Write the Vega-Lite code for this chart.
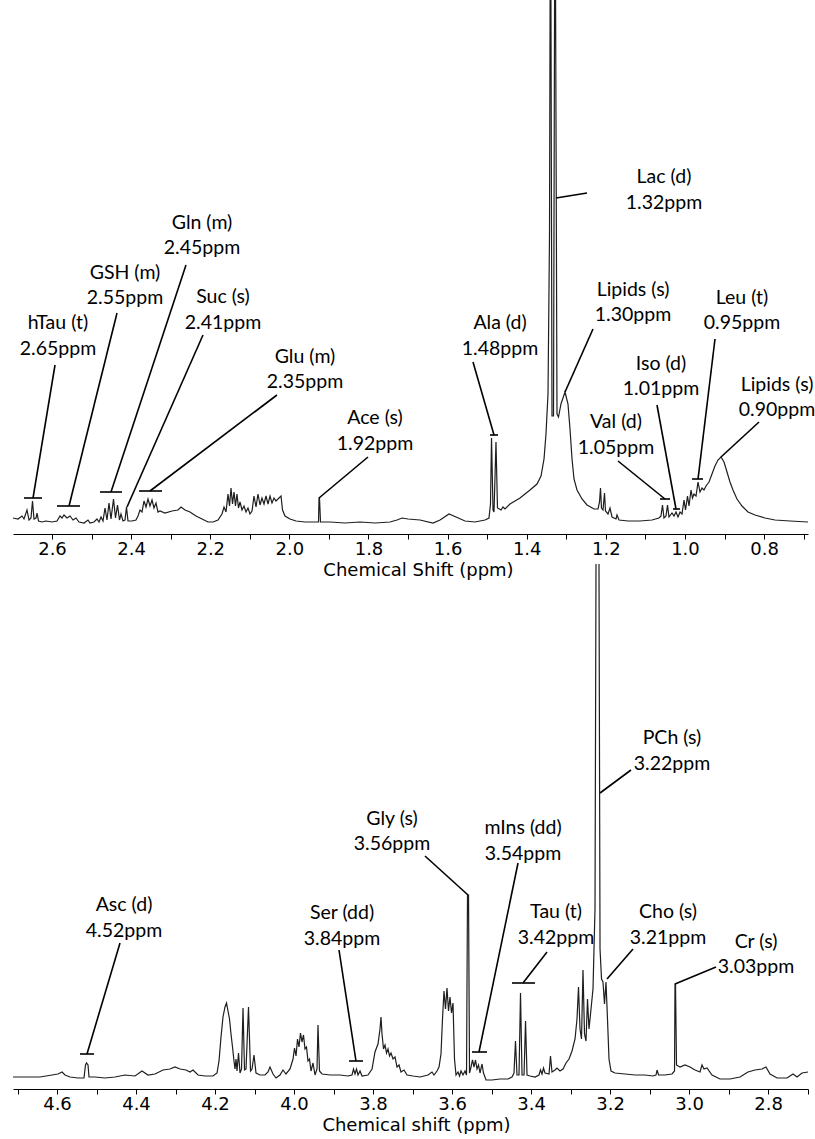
{
"$schema": "https://vega.github.io/schema/vega-lite/v6.json",
"padding": {"left": 13, "right": 7, "top": 0, "bottom": 0},
"bounds": "flush",
"spacing": 30,
"config": {
 "view": {"stroke": null},
 "axis": {"domainColor": "black", "domainWidth": 1, "tickColor": "black", "tickSize": 5, "tickWidth": 1, "labelFont": "DejaVu Sans", "labelFontSize": 18, "labelColor": "black", "labelPadding": 1, "titleFont": "DejaVu Sans", "titleFontSize": 18, "titleFontWeight": "normal", "titleColor": "black", "titlePadding": 3, "grid": false, "labelFlush": false, "labelOverlap": false}
},
"datasets": {
 "topSpec": [
{"ppm":2.6986,"int":16},{"ppm":2.6860,"int":15},{"ppm":2.6758,"int":18},{"ppm":2.6708,"int":15},{"ppm":2.6632,"int":24},{"ppm":2.6581,"int":14},{"ppm":2.6531,"int":16},{"ppm":2.6493,"int":33},{"ppm":2.6455,"int":15},{"ppm":2.6404,"int":16},{"ppm":2.6379,"int":21},{"ppm":2.6341,"int":13},{"ppm":2.6253,"int":12},{"ppm":2.6152,"int":13},{"ppm":2.6000,"int":12},{"ppm":2.5874,"int":13},{"ppm":2.5798,"int":18},{"ppm":2.5747,"int":16},{"ppm":2.5697,"int":19},{"ppm":2.5621,"int":16},{"ppm":2.5545,"int":18},{"ppm":2.5469,"int":14},{"ppm":2.5393,"int":16},{"ppm":2.5318,"int":12},{"ppm":2.5191,"int":11},{"ppm":2.5090,"int":14},{"ppm":2.5040,"int":11},{"ppm":2.4938,"int":12},{"ppm":2.4863,"int":15},{"ppm":2.4812,"int":12},{"ppm":2.4761,"int":17},{"ppm":2.4711,"int":13},{"ppm":2.4660,"int":26},{"ppm":2.4610,"int":14},{"ppm":2.4559,"int":31},{"ppm":2.4509,"int":15},{"ppm":2.4445,"int":35},{"ppm":2.4395,"int":16},{"ppm":2.4344,"int":29},{"ppm":2.4294,"int":14},{"ppm":2.4256,"int":20},{"ppm":2.4205,"int":13},{"ppm":2.4155,"int":14},{"ppm":2.4117,"int":27},{"ppm":2.4079,"int":13},{"ppm":2.3978,"int":13},{"ppm":2.3877,"int":14},{"ppm":2.3826,"int":18},{"ppm":2.3776,"int":24},{"ppm":2.3725,"int":22},{"ppm":2.3675,"int":33},{"ppm":2.3624,"int":27},{"ppm":2.3573,"int":35},{"ppm":2.3523,"int":28},{"ppm":2.3472,"int":34},{"ppm":2.3422,"int":26},{"ppm":2.3371,"int":31},{"ppm":2.3321,"int":22},{"ppm":2.3270,"int":23},{"ppm":2.3144,"int":21},{"ppm":2.2967,"int":23},{"ppm":2.2815,"int":24},{"ppm":2.2739,"int":27},{"ppm":2.2638,"int":24},{"ppm":2.2512,"int":22},{"ppm":2.2360,"int":18},{"ppm":2.2208,"int":15},{"ppm":2.2057,"int":12},{"ppm":2.1930,"int":12},{"ppm":2.1804,"int":14},{"ppm":2.1703,"int":20},{"ppm":2.1652,"int":27},{"ppm":2.1602,"int":22},{"ppm":2.1551,"int":40},{"ppm":2.1513,"int":28},{"ppm":2.1475,"int":46},{"ppm":2.1437,"int":30},{"ppm":2.1399,"int":42},{"ppm":2.1362,"int":28},{"ppm":2.1324,"int":40},{"ppm":2.1286,"int":26},{"ppm":2.1248,"int":32},{"ppm":2.1197,"int":24},{"ppm":2.1147,"int":28},{"ppm":2.1096,"int":22},{"ppm":2.1046,"int":26},{"ppm":2.0995,"int":20},{"ppm":2.0944,"int":23},{"ppm":2.0894,"int":38},{"ppm":2.0843,"int":27},{"ppm":2.0793,"int":40},{"ppm":2.0742,"int":29},{"ppm":2.0692,"int":36},{"ppm":2.0641,"int":30},{"ppm":2.0591,"int":38},{"ppm":2.0540,"int":30},{"ppm":2.0489,"int":38},{"ppm":2.0439,"int":31},{"ppm":2.0388,"int":36},{"ppm":2.0338,"int":33},{"ppm":2.0262,"int":36},{"ppm":2.0211,"int":38},{"ppm":2.0173,"int":24},{"ppm":2.0110,"int":18},{"ppm":1.9984,"int":15},{"ppm":1.9832,"int":13},{"ppm":1.9605,"int":12},{"ppm":1.9352,"int":12},{"ppm":1.9263,"int":12},{"ppm":1.9251,"int":36},{"ppm":1.9238,"int":36},{"ppm":1.9213,"int":12},{"ppm":1.8973,"int":12},{"ppm":1.8594,"int":11},{"ppm":1.8214,"int":12},{"ppm":1.7835,"int":11},{"ppm":1.7456,"int":12},{"ppm":1.7279,"int":14},{"ppm":1.7153,"int":16},{"ppm":1.7001,"int":15},{"ppm":1.6698,"int":14},{"ppm":1.6369,"int":11},{"ppm":1.6192,"int":14},{"ppm":1.5965,"int":20},{"ppm":1.5788,"int":17},{"ppm":1.5560,"int":13},{"ppm":1.5307,"int":12},{"ppm":1.5055,"int":14},{"ppm":1.4954,"int":16},{"ppm":1.4916,"int":30},{"ppm":1.4890,"int":96},{"ppm":1.4852,"int":24},{"ppm":1.4827,"int":22},{"ppm":1.4777,"int":92},{"ppm":1.4739,"int":26},{"ppm":1.4650,"int":24},{"ppm":1.4600,"int":27},{"ppm":1.4549,"int":25},{"ppm":1.4423,"int":30},{"ppm":1.4170,"int":36},{"ppm":1.3917,"int":44},{"ppm":1.3740,"int":50},{"ppm":1.3639,"int":58},{"ppm":1.3563,"int":75},{"ppm":1.3513,"int":100},{"ppm":1.3462,"int":140},{"ppm":1.3424,"int":300},{"ppm":1.3399,"int":700},{"ppm":1.3361,"int":118},{"ppm":1.3323,"int":118},{"ppm":1.3285,"int":700},{"ppm":1.3235,"int":120},{"ppm":1.3197,"int":117},{"ppm":1.3134,"int":130},{"ppm":1.3032,"int":142},{"ppm":1.2957,"int":130},{"ppm":1.2906,"int":105},{"ppm":1.2855,"int":75},{"ppm":1.2805,"int":55},{"ppm":1.2729,"int":44},{"ppm":1.2603,"int":35},{"ppm":1.2476,"int":29},{"ppm":1.2299,"int":25},{"ppm":1.2198,"int":25},{"ppm":1.2160,"int":32},{"ppm":1.2135,"int":46},{"ppm":1.2110,"int":26},{"ppm":1.2072,"int":24},{"ppm":1.2034,"int":41},{"ppm":1.2009,"int":23},{"ppm":1.1945,"int":20},{"ppm":1.1895,"int":26},{"ppm":1.1844,"int":17},{"ppm":1.1743,"int":15},{"ppm":1.1718,"int":19},{"ppm":1.1667,"int":14},{"ppm":1.1440,"int":13},{"ppm":1.1137,"int":13},{"ppm":1.0833,"int":14},{"ppm":1.0656,"int":16},{"ppm":1.0606,"int":18},{"ppm":1.0568,"int":29},{"ppm":1.0530,"int":16},{"ppm":1.0479,"int":18},{"ppm":1.0441,"int":29},{"ppm":1.0404,"int":17},{"ppm":1.0328,"int":21},{"ppm":1.0277,"int":18},{"ppm":1.0227,"int":22},{"ppm":1.0176,"int":17},{"ppm":1.0125,"int":22},{"ppm":1.0075,"int":20},{"ppm":1.0024,"int":34},{"ppm":0.9986,"int":24},{"ppm":0.9936,"int":38},{"ppm":0.9898,"int":28},{"ppm":0.9847,"int":44},{"ppm":0.9810,"int":36},{"ppm":0.9772,"int":40},{"ppm":0.9721,"int":38},{"ppm":0.9670,"int":52},{"ppm":0.9620,"int":42},{"ppm":0.9569,"int":46},{"ppm":0.9519,"int":44},{"ppm":0.9468,"int":48},{"ppm":0.9392,"int":52},{"ppm":0.9317,"int":60},{"ppm":0.9241,"int":68},{"ppm":0.9165,"int":74},{"ppm":0.9089,"int":77},{"ppm":0.9013,"int":72},{"ppm":0.8937,"int":62},{"ppm":0.8862,"int":52},{"ppm":0.8786,"int":44},{"ppm":0.8685,"int":35},{"ppm":0.8558,"int":28},{"ppm":0.8407,"int":22},{"ppm":0.8230,"int":19},{"ppm":0.7977,"int":16},{"ppm":0.7724,"int":14},{"ppm":0.7345,"int":13},{"ppm":0.6890,"int":12}
 ],
 "topSeg": [
{"ppm":2.5924,"int":169,"ppm2":2.6480,"int2":36},{"ppm":2.6708,"int":36,"ppm2":2.6253,"int2":36},
{"ppm":2.4357,"int":221,"ppm2":2.5570,"int2":28},{"ppm":2.5874,"int":28,"ppm2":2.5292,"int2":28},
{"ppm":2.2613,"int":269,"ppm2":2.4509,"int2":42},{"ppm":2.4787,"int":42,"ppm2":2.4231,"int2":42},
{"ppm":2.2183,"int":199,"ppm2":2.4104,"int2":27},
{"ppm":2.0313,"int":139,"ppm2":2.3523,"int2":43},{"ppm":2.3801,"int":43,"ppm2":2.3220,"int2":43},
{"ppm":1.8012,"int":77,"ppm2":1.9251,"int2":36},
{"ppm":1.5358,"int":172,"ppm2":1.4827,"int2":99},{"ppm":1.4928,"int":99,"ppm2":1.4726,"int2":99},
{"ppm":1.2476,"int":341,"ppm2":1.3260,"int2":336},
{"ppm":1.2325,"int":205,"ppm2":1.3032,"int2":142},
{"ppm":1.1693,"int":73,"ppm2":1.0505,"int2":35},{"ppm":1.0631,"int":35,"ppm2":1.0378,"int2":35},
{"ppm":1.0707,"int":129,"ppm2":1.0227,"int2":25},{"ppm":1.0302,"int":25,"ppm2":1.0125,"int2":25},
{"ppm":0.9241,"int":195,"ppm2":0.9670,"int2":55},{"ppm":0.9822,"int":55,"ppm2":0.9544,"int2":55},
{"ppm":0.8128,"int":112,"ppm2":0.9089,"int2":77}
 ],
 "topLab": [
{"ppm":2.5848,"int":211,"label":"hTau (t)"},{"ppm":2.5848,"int":185,"label":"2.65ppm"},
{"ppm":2.4155,"int":261,"label":"GSH (m)"},{"ppm":2.4155,"int":236,"label":"2.55ppm"},
{"ppm":2.2208,"int":311,"label":"Gln (m)"},{"ppm":2.2208,"int":286,"label":"2.45ppm"},
{"ppm":2.1678,"int":237,"label":"Suc (s)"},{"ppm":2.1678,"int":211,"label":"2.41ppm"},
{"ppm":1.9605,"int":177,"label":"Glu (m)"},{"ppm":1.9605,"int":152,"label":"2.35ppm"},
{"ppm":1.7835,"int":116,"label":"Ace (s)"},{"ppm":1.7835,"int":90,"label":"1.92ppm"},
{"ppm":1.0530,"int":357,"label":"Lac (d)"},{"ppm":1.0530,"int":331,"label":"1.32ppm"},
{"ppm":1.1314,"int":244,"label":"Lipids (s)"},{"ppm":1.1314,"int":219,"label":"1.30ppm"},
{"ppm":1.4676,"int":211,"label":"Ala (d)"},{"ppm":1.4676,"int":185,"label":"1.48ppm"},
{"ppm":0.8558,"int":236,"label":"Leu (t)"},{"ppm":0.8558,"int":211,"label":"0.95ppm"},
{"ppm":1.0606,"int":170,"label":"Iso (d)"},{"ppm":1.0606,"int":145,"label":"1.01ppm"},
{"ppm":0.7674,"int":149,"label":"Lipids (s)"},{"ppm":0.7674,"int":124,"label":"0.90ppm"},
{"ppm":1.1743,"int":112,"label":"Val (d)"},{"ppm":1.1743,"int":86,"label":"1.05ppm"}
 ],
 "botSpec": [
{"ppm":4.7114,"int":12},{"ppm":4.6810,"int":12},{"ppm":4.6430,"int":12},{"ppm":4.6127,"int":14},{"ppm":4.5975,"int":15},{"ppm":4.5873,"int":17},{"ppm":4.5797,"int":14},{"ppm":4.5671,"int":12},{"ppm":4.5468,"int":11},{"ppm":4.5317,"int":11},{"ppm":4.5279,"int":24},{"ppm":4.5253,"int":26},{"ppm":4.5215,"int":24},{"ppm":4.5190,"int":12},{"ppm":4.5038,"int":12},{"ppm":4.4785,"int":11},{"ppm":4.4532,"int":12},{"ppm":4.4279,"int":14},{"ppm":4.4025,"int":13},{"ppm":4.3848,"int":18},{"ppm":4.3696,"int":14},{"ppm":4.3519,"int":15},{"ppm":4.3316,"int":19},{"ppm":4.3139,"int":20},{"ppm":4.3013,"int":22},{"ppm":4.2886,"int":20},{"ppm":4.2734,"int":19},{"ppm":4.2633,"int":17},{"ppm":4.2557,"int":19},{"ppm":4.2430,"int":14},{"ppm":4.2253,"int":13},{"ppm":4.2051,"int":13},{"ppm":4.1949,"int":16},{"ppm":4.1899,"int":28},{"ppm":4.1848,"int":52},{"ppm":4.1798,"int":72},{"ppm":4.1747,"int":82},{"ppm":4.1709,"int":86},{"ppm":4.1671,"int":78},{"ppm":4.1633,"int":70},{"ppm":4.1595,"int":55},{"ppm":4.1557,"int":42},{"ppm":4.1519,"int":28},{"ppm":4.1494,"int":20},{"ppm":4.1468,"int":30},{"ppm":4.1443,"int":18},{"ppm":4.1405,"int":36},{"ppm":4.1367,"int":16},{"ppm":4.1329,"int":20},{"ppm":4.1291,"int":81},{"ppm":4.1253,"int":19},{"ppm":4.1215,"int":20},{"ppm":4.1152,"int":82},{"ppm":4.1101,"int":18},{"ppm":4.1063,"int":20},{"ppm":4.1013,"int":34},{"ppm":4.0962,"int":16},{"ppm":4.0861,"int":14},{"ppm":4.0734,"int":14},{"ppm":4.0658,"int":17},{"ppm":4.0608,"int":22},{"ppm":4.0532,"int":15},{"ppm":4.0456,"int":11},{"ppm":4.0355,"int":14},{"ppm":4.0279,"int":19},{"ppm":4.0203,"int":15},{"ppm":4.0101,"int":20},{"ppm":4.0025,"int":30},{"ppm":3.9987,"int":41},{"ppm":3.9949,"int":33},{"ppm":3.9911,"int":50},{"ppm":3.9874,"int":42},{"ppm":3.9836,"int":56},{"ppm":3.9798,"int":47},{"ppm":3.9760,"int":54},{"ppm":3.9722,"int":40},{"ppm":3.9684,"int":42},{"ppm":3.9646,"int":28},{"ppm":3.9608,"int":30},{"ppm":3.9570,"int":18},{"ppm":3.9519,"int":26},{"ppm":3.9468,"int":14},{"ppm":3.9418,"int":20},{"ppm":3.9393,"int":64},{"ppm":3.9355,"int":18},{"ppm":3.9291,"int":15},{"ppm":3.9089,"int":14},{"ppm":3.8836,"int":14},{"ppm":3.8633,"int":13},{"ppm":3.8532,"int":14},{"ppm":3.8494,"int":20},{"ppm":3.8456,"int":15},{"ppm":3.8418,"int":20},{"ppm":3.8380,"int":14},{"ppm":3.8329,"int":18},{"ppm":3.8279,"int":13},{"ppm":3.8127,"int":14},{"ppm":3.8025,"int":20},{"ppm":3.7950,"int":37},{"ppm":3.7874,"int":45},{"ppm":3.7823,"int":60},{"ppm":3.7798,"int":72},{"ppm":3.7772,"int":55},{"ppm":3.7734,"int":40},{"ppm":3.7696,"int":44},{"ppm":3.7658,"int":36},{"ppm":3.7620,"int":40},{"ppm":3.7582,"int":33},{"ppm":3.7544,"int":36},{"ppm":3.7494,"int":30},{"ppm":3.7443,"int":32},{"ppm":3.7393,"int":22},{"ppm":3.7342,"int":24},{"ppm":3.7291,"int":17},{"ppm":3.7215,"int":19},{"ppm":3.7139,"int":14},{"ppm":3.6988,"int":13},{"ppm":3.6810,"int":12},{"ppm":3.6608,"int":14},{"ppm":3.6507,"int":17},{"ppm":3.6456,"int":14},{"ppm":3.6380,"int":18},{"ppm":3.6329,"int":22},{"ppm":3.6279,"int":35},{"ppm":3.6241,"int":70},{"ppm":3.6203,"int":98},{"ppm":3.6165,"int":80},{"ppm":3.6127,"int":101},{"ppm":3.6089,"int":78},{"ppm":3.6051,"int":92},{"ppm":3.6013,"int":76},{"ppm":3.5975,"int":86},{"ppm":3.5937,"int":30},{"ppm":3.5899,"int":14},{"ppm":3.5848,"int":17},{"ppm":3.5810,"int":13},{"ppm":3.5772,"int":18},{"ppm":3.5722,"int":14},{"ppm":3.5671,"int":18},{"ppm":3.5633,"int":14},{"ppm":3.5608,"int":194},{"ppm":3.5582,"int":194},{"ppm":3.5557,"int":16},{"ppm":3.5519,"int":22},{"ppm":3.5481,"int":29},{"ppm":3.5443,"int":22},{"ppm":3.5405,"int":29},{"ppm":3.5367,"int":20},{"ppm":3.5329,"int":24},{"ppm":3.5291,"int":16},{"ppm":3.5241,"int":25},{"ppm":3.5203,"int":16},{"ppm":3.5139,"int":9},{"ppm":3.4987,"int":9},{"ppm":3.4785,"int":10},{"ppm":3.4582,"int":10},{"ppm":3.4481,"int":12},{"ppm":3.4431,"int":16},{"ppm":3.4393,"int":48},{"ppm":3.4355,"int":14},{"ppm":3.4304,"int":14},{"ppm":3.4266,"int":96},{"ppm":3.4228,"int":14},{"ppm":3.4177,"int":14},{"ppm":3.4139,"int":68},{"ppm":3.4101,"int":14},{"ppm":3.4025,"int":13},{"ppm":3.3899,"int":12},{"ppm":3.3798,"int":14},{"ppm":3.3760,"int":19},{"ppm":3.3722,"int":15},{"ppm":3.3684,"int":21},{"ppm":3.3646,"int":16},{"ppm":3.3544,"int":15},{"ppm":3.3507,"int":33},{"ppm":3.3469,"int":17},{"ppm":3.3393,"int":19},{"ppm":3.3342,"int":21},{"ppm":3.3266,"int":18},{"ppm":3.3190,"int":20},{"ppm":3.3114,"int":26},{"ppm":3.3038,"int":30},{"ppm":3.2962,"int":38},{"ppm":3.2886,"int":50},{"ppm":3.2836,"int":70},{"ppm":3.2798,"int":102},{"ppm":3.2760,"int":60},{"ppm":3.2722,"int":50},{"ppm":3.2684,"int":119},{"ppm":3.2646,"int":55},{"ppm":3.2608,"int":48},{"ppm":3.2570,"int":90},{"ppm":3.2532,"int":60},{"ppm":3.2481,"int":80},{"ppm":3.2431,"int":100},{"ppm":3.2380,"int":180},{"ppm":3.2342,"int":700},{"ppm":3.2291,"int":700},{"ppm":3.2253,"int":140},{"ppm":3.2215,"int":110},{"ppm":3.2178,"int":107},{"ppm":3.2140,"int":85},{"ppm":3.2102,"int":107},{"ppm":3.2064,"int":70},{"ppm":3.2026,"int":30},{"ppm":3.1975,"int":18},{"ppm":3.1874,"int":16},{"ppm":3.1621,"int":15},{"ppm":3.1367,"int":14},{"ppm":3.1114,"int":14},{"ppm":3.0912,"int":13},{"ppm":3.0836,"int":14},{"ppm":3.0810,"int":19},{"ppm":3.0772,"int":14},{"ppm":3.0608,"int":14},{"ppm":3.0431,"int":15},{"ppm":3.0367,"int":18},{"ppm":3.0355,"int":105},{"ppm":3.0342,"int":105},{"ppm":3.0317,"int":24},{"ppm":3.0228,"int":22},{"ppm":3.0102,"int":24},{"ppm":2.9975,"int":22},{"ppm":2.9848,"int":19},{"ppm":2.9722,"int":17},{"ppm":2.9671,"int":24},{"ppm":2.9621,"int":20},{"ppm":2.9545,"int":21},{"ppm":2.9418,"int":14},{"ppm":2.9215,"int":10},{"ppm":2.8962,"int":10},{"ppm":2.8709,"int":12},{"ppm":2.8507,"int":17},{"ppm":2.8329,"int":19},{"ppm":2.8152,"int":20},{"ppm":2.8051,"int":22},{"ppm":2.7950,"int":15},{"ppm":2.7772,"int":11},{"ppm":2.7519,"int":11},{"ppm":2.7367,"int":15},{"ppm":2.7266,"int":12},{"ppm":2.7140,"int":16},{"ppm":2.6988,"int":17}
 ],
 "botSeg": [
{"ppm":4.4405,"int":146,"ppm2":4.5241,"int2":35},{"ppm":4.5418,"int":35,"ppm2":4.5063,"int2":35},
{"ppm":3.8861,"int":139,"ppm2":3.8431,"int2":28},{"ppm":3.8608,"int":28,"ppm2":3.8253,"int2":28},
{"ppm":3.6684,"int":233,"ppm2":3.5595,"int2":194},
{"ppm":3.4329,"int":226,"ppm2":3.5317,"int2":37},{"ppm":3.5494,"int":37,"ppm2":3.5114,"int2":37},
{"ppm":3.3595,"int":137,"ppm2":3.4203,"int2":106},{"ppm":3.4481,"int":106,"ppm2":3.3899,"int2":106},
{"ppm":3.1469,"int":319,"ppm2":3.2253,"int2":296},
{"ppm":3.1418,"int":140,"ppm2":3.2076,"int2":110},
{"ppm":2.9317,"int":122,"ppm2":3.0355,"int2":105}
 ],
 "botLab": [
{"ppm":4.4304,"int":184,"label":"Asc (d)"},{"ppm":4.4304,"int":158,"label":"4.52ppm"},
{"ppm":3.8785,"int":176,"label":"Ser (dd)"},{"ppm":3.8785,"int":150,"label":"3.84ppm"},
{"ppm":3.7519,"int":270,"label":"Gly (s)"},{"ppm":3.7519,"int":245,"label":"3.56ppm"},
{"ppm":3.4203,"int":261,"label":"mIns (dd)"},{"ppm":3.4203,"int":235,"label":"3.54ppm"},
{"ppm":3.3367,"int":177,"label":"Tau (t)"},{"ppm":3.3367,"int":151,"label":"3.42ppm"},
{"ppm":3.0431,"int":351,"label":"PCh (s)"},{"ppm":3.0431,"int":325,"label":"3.22ppm"},
{"ppm":3.0532,"int":177,"label":"Cho (s)"},{"ppm":3.0532,"int":151,"label":"3.21ppm"},
{"ppm":2.8304,"int":147,"label":"Cr (s)"},{"ppm":2.8304,"int":122,"label":"3.03ppm"}
 ]
},
"vconcat": [
 {
  "width": 795, "height": 534,
  "encoding": {
   "x": {"field": "ppm", "type": "quantitative", "scale": {"domain": [0.689, 2.6986], "reverse": true, "nice": false, "zero": false},
         "axis": {"values": [2.6,2.5,2.4,2.3,2.2,2.1,2.0,1.9,1.8,1.7,1.6,1.5,1.4,1.3,1.2,1.1,1.0,0.9,0.8,0.7], "labelExpr": "round(datum.value*10) % 2 == 0 ? format(datum.value, '.1f') : ''", "title": "Chemical Shift (ppm)", "titleX": 405, "titleAlign": "center"}},
   "y": {"field": "int", "type": "quantitative", "scale": {"domain": [0, 534], "nice": false, "zero": false}, "axis": null}
  },
  "layer": [
   {"data": {"name": "topSpec"}, "mark": {"type": "line", "clip": true, "color": "#1e1e1e", "strokeWidth": 1.2}},
   {"data": {"name": "topSeg"}, "mark": {"type": "rule", "color": "black", "strokeWidth": 1.6}, "encoding": {"x2": {"field": "ppm2"}, "y2": {"field": "int2"}}},
   {"data": {"name": "topLab"}, "mark": {"type": "text", "font": "Lato", "fontSize": 19.5, "baseline": "middle", "align": "center", "color": "black"}, "encoding": {"text": {"field": "label"}}}
  ]
 },
 {
  "width": 795, "height": 525,
  "encoding": {
   "x": {"field": "ppm", "type": "quantitative", "scale": {"domain": [2.6988, 4.7114], "reverse": true, "nice": false, "zero": false},
         "axis": {"values": [4.7,4.6,4.5,4.4,4.3,4.2,4.1,4.0,3.9,3.8,3.7,3.6,3.5,3.4,3.3,3.2,3.1,3.0,2.9,2.8,2.7], "labelExpr": "round(datum.value*10) % 2 == 0 ? format(datum.value, '.1f') : ''", "title": "Chemical shift (ppm)", "titleX": 403, "titleAlign": "center"}},
   "y": {"field": "int", "type": "quantitative", "scale": {"domain": [0, 525], "nice": false, "zero": false}, "axis": null}
  },
  "layer": [
   {"data": {"name": "botSpec"}, "mark": {"type": "line", "clip": true, "color": "#1e1e1e", "strokeWidth": 1.2}},
   {"data": {"name": "botSeg"}, "mark": {"type": "rule", "color": "black", "strokeWidth": 1.6}, "encoding": {"x2": {"field": "ppm2"}, "y2": {"field": "int2"}}},
   {"data": {"name": "botLab"}, "mark": {"type": "text", "font": "Lato", "fontSize": 19.5, "baseline": "middle", "align": "center", "color": "black"}, "encoding": {"text": {"field": "label"}}}
  ]
 }
]
}
